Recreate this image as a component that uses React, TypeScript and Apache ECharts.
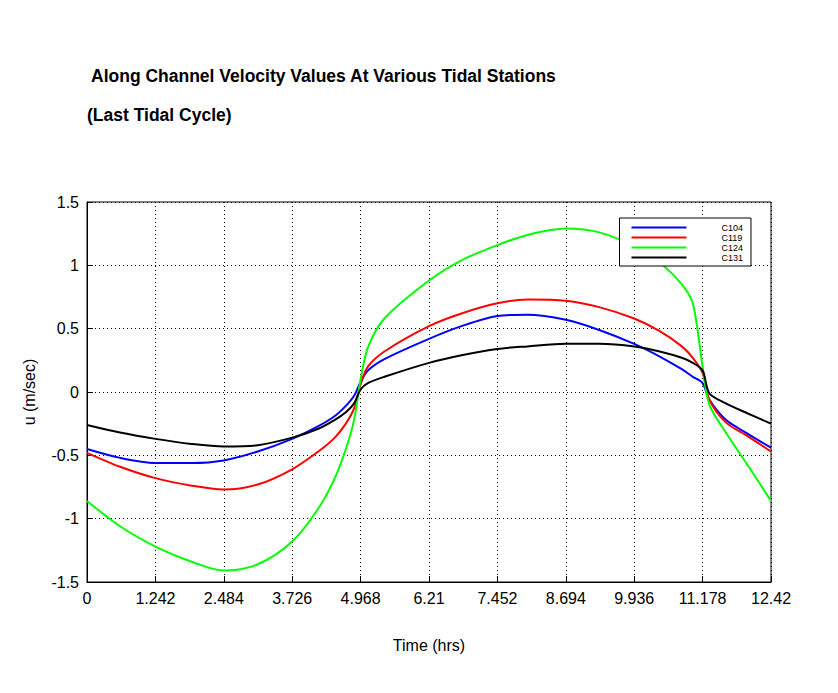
import { useEffect, useRef } from 'react';
import * as echarts from 'echarts';

const hours = [0, 0.6, 1.242, 1.9, 2.484, 3.1, 3.726, 4.2, 4.5, 4.7, 4.85, 4.968, 5.1, 5.4, 6.21, 6.8, 7.452, 8.0, 8.694, 9.3, 9.936, 10.4, 10.8, 11.0, 11.178, 11.3, 11.6, 12.0, 12.42];
const c104 = [-0.45, -0.52, -0.56, -0.56, -0.54, -0.47, -0.37, -0.27, -0.19, -0.11, -0.03, 0.08, 0.17, 0.26, 0.42, 0.52, 0.6, 0.61, 0.57, 0.49, 0.38, 0.28, 0.18, 0.12, 0.07, -0.06, -0.22, -0.33, -0.44];
const c119 = [-0.48, -0.59, -0.68, -0.74, -0.77, -0.73, -0.61, -0.47, -0.36, -0.25, -0.13, 0.06, 0.2, 0.32, 0.52, 0.62, 0.7, 0.73, 0.72, 0.67, 0.58, 0.48, 0.36, 0.27, 0.15, -0.06, -0.24, -0.35, -0.47];
const c124 = [-0.86, -1.06, -1.22, -1.34, -1.41, -1.36, -1.18, -0.92, -0.68, -0.45, -0.22, 0.1, 0.35, 0.58, 0.88, 1.04, 1.16, 1.24, 1.29, 1.26, 1.15, 1.02, 0.85, 0.7, 0.2, -0.1, -0.32, -0.58, -0.86];
const c131 = [-0.26, -0.32, -0.37, -0.41, -0.43, -0.42, -0.36, -0.29, -0.22, -0.16, -0.09, 0.02, 0.07, 0.12, 0.23, 0.29, 0.34, 0.36, 0.38, 0.38, 0.36, 0.32, 0.27, 0.23, 0.17, -0.01, -0.09, -0.17, -0.25];
const names = ['C104', 'C119', 'C124', 'C131'];
const colors = ['#0000ff', '#ff0000', '#00ff00', '#000000'];

export default function App() {
  const ref = useRef<HTMLDivElement>(null);

  useEffect(() => {
    if (!ref.current) return;
    const chart = echarts.init(ref.current, null, { renderer: 'svg' });
    const font = 'Liberation Sans, Arial, sans-serif';
    const all = [c104, c119, c124, c131];

    chart.setOption({
      animation: false,
      backgroundColor: '#fff',
      textStyle: { fontFamily: font },
      title: [
        { text: 'Along Channel Velocity Values At Various Tidal Stations', left: 86, top: 62, textStyle: { fontSize: 17.5, fontWeight: 'bold', color: '#000', fontFamily: font } },
        { text: '(Last Tidal Cycle)', left: 82, top: 101, textStyle: { fontSize: 17.5, fontWeight: 'bold', color: '#000', fontFamily: font } },
      ],
      legend: {
        data: names,
        orient: 'vertical',
        right: 87,
        top: 218,
        itemWidth: 55,
        itemHeight: 2,
        itemGap: 1,
        icon: 'rect',
        backgroundColor: '#fff',
        borderColor: '#000',
        borderWidth: 1,
        borderRadius: 0,
        padding: [5, 8, 4, 12],
        textStyle: { fontSize: 9, color: '#000', padding: [0, 0, 0, 30] },
      },
      grid: { left: 87, top: 202, width: 684, height: 380, show: true, borderColor: '#000', borderWidth: 1 },
      xAxis: {
        type: 'value', min: 0, max: 12.42, interval: 1.242,
        name: 'Time (hrs)', nameLocation: 'middle', nameGap: 55,
        nameTextStyle: { fontSize: 16, color: '#000' },
        axisLine: { onZero: false, lineStyle: { color: '#000' } },
        axisTick: { inside: true, length: 6, lineStyle: { color: '#000' } },
        axisLabel: { fontSize: 16, color: '#000', formatter: (v: number) => String(parseFloat(v.toFixed(3))) },
        splitLine: { lineStyle: { color: '#000', type: [1, 3] } },
      },
      yAxis: {
        type: 'value', min: -1.5, max: 1.5, interval: 0.5,
        name: 'u (m/sec)', nameLocation: 'middle', nameGap: 50,
        nameTextStyle: { fontSize: 16, color: '#000' },
        axisLine: { onZero: false, lineStyle: { color: '#000' } },
        axisTick: { inside: true, length: 6, lineStyle: { color: '#000' } },
        axisLabel: { fontSize: 16, color: '#000' },
        splitLine: { lineStyle: { color: '#000', type: [1, 3] } },
      },
      series: names.map((n, i) => ({
        name: n, type: 'line', smooth: 0.3, showSymbol: false,
        data: hours.map((h, j) => [h, all[i][j]]),
        lineStyle: { color: colors[i], width: 2 }, itemStyle: { color: colors[i] },
      })),
    });
    return () => chart.dispose();
  }, []);

  return <div ref={ref} style={{ position: 'fixed', left: 0, top: 0, width: 838, height: 693 }} />;
}
